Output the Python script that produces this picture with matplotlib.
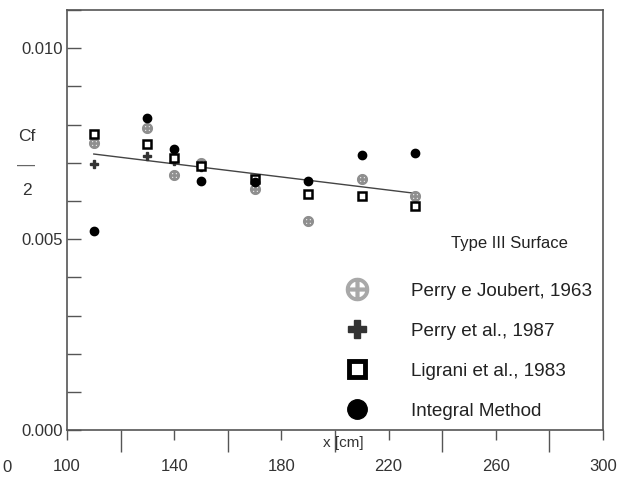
import matplotlib
matplotlib.use("Agg")
import matplotlib.pyplot as plt
from matplotlib.lines import Line2D

plt.rcParams['font.family'] = ['Liberation Sans', 'DejaVu Sans']

# Skin friction data, Type III surface (x in cm, Cf/2)
pj_x = [110, 130, 140, 150, 170, 190, 210, 230]
pj_y = [0.00752, 0.00790, 0.00667, 0.00700, 0.00632, 0.00548, 0.00657, 0.00612]

perry_x = [110, 130, 140, 150]
perry_y = [0.00697, 0.00717, 0.00706, 0.00688]

ligrani_x = [110, 130, 140, 150, 170, 190, 210, 230]
ligrani_y = [0.00776, 0.00749, 0.00713, 0.00692, 0.00657, 0.00618, 0.00613, 0.00588]

integral_x = [110, 130, 140, 150, 170, 190, 210, 230]
integral_y = [0.00521, 0.00817, 0.00736, 0.00652, 0.00650, 0.00652, 0.00720, 0.00725]

fit_x = [110, 230]
fit_y = [0.00723, 0.00620]

legend_labels = ['Perry e Joubert, 1963', 'Perry et al., 1987',
                 'Ligrani et al., 1983', 'Integral Method']

fig = plt.figure(figsize=(6.29, 4.8), dpi=100)
ax = fig.add_axes([0.1065, 0.104, 0.852, 0.875])

ax.plot(fit_x, fit_y, color='#444444', lw=1.0, zorder=1)
ax.plot(pj_x, pj_y, linestyle='none', marker='$\\oplus$', ms=7, color='#8f8f8f', zorder=2)
ax.plot(perry_x, perry_y, linestyle='none', marker='P', ms=5.5, color='#333333', zorder=3)
ax.plot(ligrani_x, ligrani_y, linestyle='none', marker='s', ms=5.5, mfc='white',
        mec='black', mew=1.8, zorder=4)
ax.plot(integral_x, integral_y, linestyle='none', marker='o', ms=6, color='black', zorder=5)

ax.set_xlim(100, 300)
ax.set_ylim(0, 0.011)

# labelled ticks are short, the in-between ones long
ax.set_xticks([100, 140, 180, 220, 260, 300])
ax.set_xticks([120, 160, 200, 240, 280], minor=True)
ax.tick_params(axis='x', which='major', direction='out', length=7, width=1,
               color='#555555', labelsize=12, pad=14, labelcolor='#333333')
ax.tick_params(axis='x', which='minor', direction='out', length=16, width=1,
               color='#555555')

ax.set_yticks([0.000, 0.005, 0.010])
ax.set_yticklabels(['0.000', '0.005', '0.010'])
ax.set_yticks([0.001, 0.002, 0.003, 0.004, 0.006, 0.007, 0.008, 0.009, 0.011], minor=True)
ax.tick_params(axis='y', which='both', direction='in', length=10, width=1,
               color='#555555', labelsize=12, pad=3, labelcolor='#333333')

for s in ax.spines.values():
    s.set_color('#555555')
    s.set_linewidth(1.2)

fig.text(0.003, 0.027, '0', fontsize=12, color='#333333', va='center', ha='left')
ax.text(203, -0.00015, 'x [cm]', fontsize=11, color='#333333', ha='center', va='top')

# Cf/2 drawn as a stacked fraction
fig.text(0.042, 0.715, 'Cf', fontsize=12.5, color='#333333', ha='center', va='center')
fig.text(0.042, 0.655, '\u2014', fontsize=13, color='#666666', ha='center', va='center')
fig.text(0.043, 0.604, '2', fontsize=12.5, color='#333333', ha='center', va='center')

handles = [
    Line2D([], [], linestyle='none', marker='$\\oplus$', ms=16, color='#a8a8a8'),
    Line2D([], [], linestyle='none', marker='P', ms=13, color='#333333'),
    Line2D([], [], linestyle='none', marker='s', ms=12, mfc='white', mec='black', mew=3.5),
    Line2D([], [], linestyle='none', marker='o', ms=14, color='black'),
]
leg = ax.legend(handles, legend_labels, loc='lower right',
                bbox_to_anchor=(1.0, 0.0), frameon=False, fontsize=13.6,
                handlelength=2.0, handletextpad=1.9,
                labelspacing=1.2, borderaxespad=0.15)
for t in leg.get_texts():
    t.set_color('#222222')

ax.text(0.825, 0.445, 'Type III Surface', transform=ax.transAxes, fontsize=12,
        color='#222222', ha='center', va='center')

fig.savefig('out.png', dpi=100)
